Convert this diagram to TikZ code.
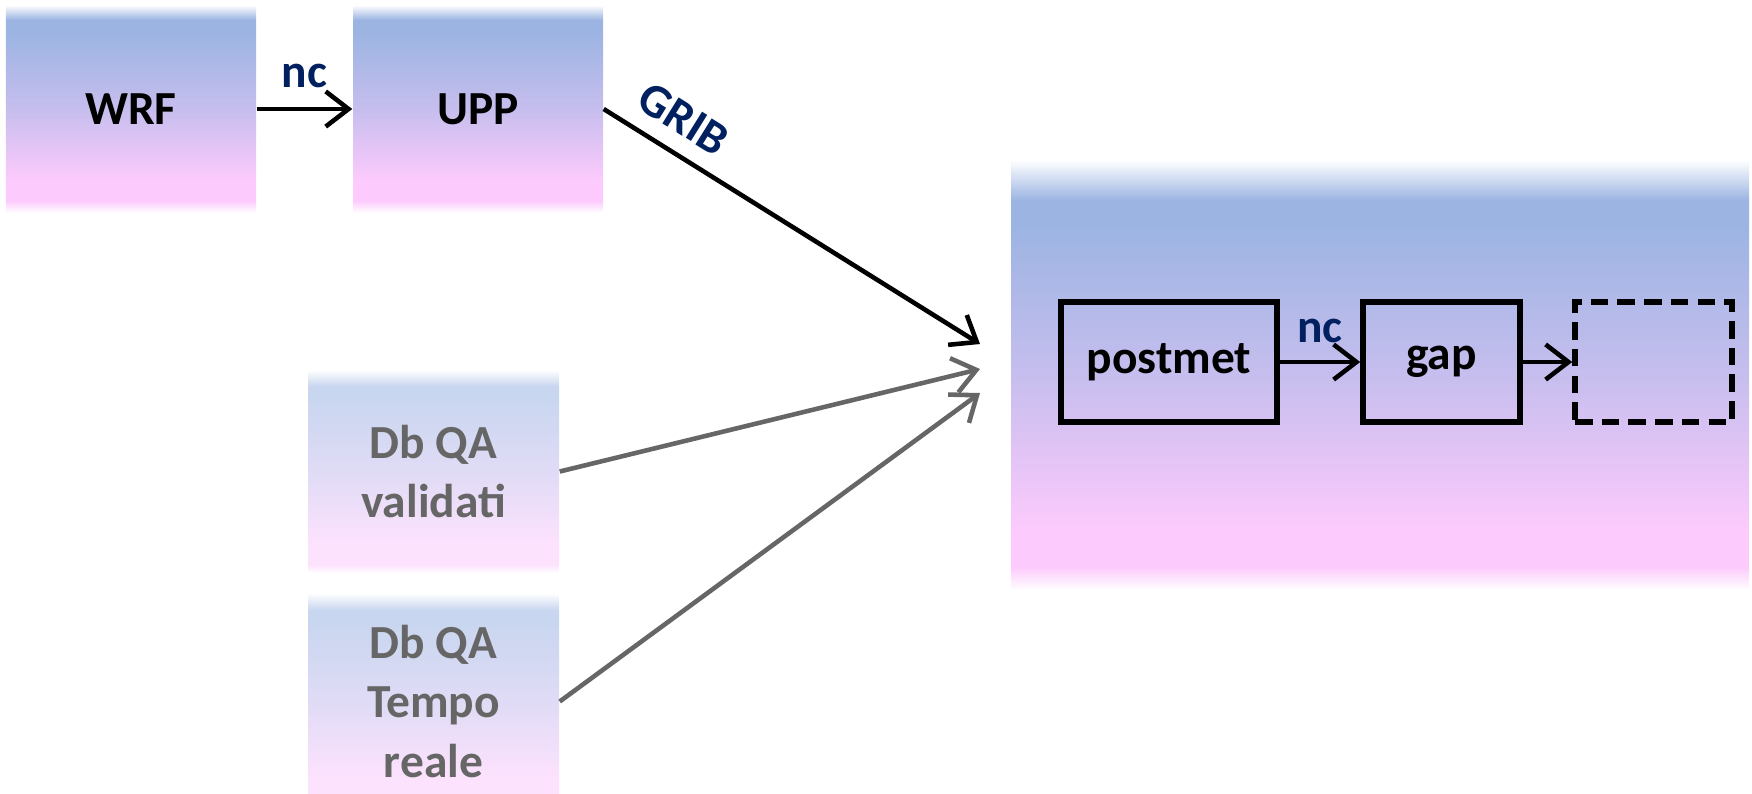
\documentclass[tikz,border=0pt]{standalone}
\usepackage{fontspec}
\setmainfont{Carlito}
\usepackage{xcolor}
\usepackage{tikz}
\usetikzlibrary{arrows.meta}

\definecolor{boxblue}{RGB}{155,180,226}
\definecolor{boxlav}{RGB}{198,190,238}
\definecolor{boxpink}{RGB}{252,202,252}
\definecolor{labnavy}{RGB}{0,32,96}
\definecolor{dbgray}{RGB}{102,102,102}

% blue-to-pink fill that fades out at top and bottom
\pgfdeclareverticalshading{boxshade}{100bp}{
  color(0bp)=(white); color(25bp)=(white); color(28bp)=(boxpink);
  color(33bp)=(boxpink); color(50bp)=(boxlav); color(69bp)=(boxblue);
  color(71.4bp)=(boxblue); color(75bp)=(white); color(100bp)=(white)}
\pgfdeclareverticalshading{bigshade}{100bp}{
  color(0bp)=(white); color(25bp)=(white); color(27.7bp)=(boxpink);
  color(32bp)=(boxpink); color(50bp)=(boxlav); color(68bp)=(boxblue);
  color(70.3bp)=(boxblue); color(75bp)=(white); color(100bp)=(white)}
\pgfdeclareverticalshading{dbshade}{100bp}{
  color(0bp)=(white); color(25bp)=(white); color(27bp)=(boxpink!55!white);
  color(32bp)=(boxpink!55!white); color(50bp)=(boxlav!55!white);
  color(69bp)=(boxblue!55!white); color(71bp)=(boxblue!55!white);
  color(75bp)=(white); color(100bp)=(white)}

\newcommand{\boxfont}{\fontsize{13.5}{16.8}\selectfont\bfseries}

\begin{document}
\begin{tikzpicture}[
  modelbox/.style={rectangle, shade, shading=boxshade, minimum width=2.50cm,
    minimum height=2.08cm, font=\boxfont, inner sep=0pt},
  dbbox/.style={rectangle, shade, shading=dbshade, minimum width=2.51cm,
    align=center, text=dbgray, font=\boxfont, inner sep=0pt},
  procbox/.style={rectangle, draw, line width=1.6pt, minimum height=1.20cm,
    font=\boxfont, inner sep=0pt},
  flow/.style={line width=1.3pt, -{Straight Barb[length=6.5pt,width=10pt]}},
  datalab/.style={text=labnavy, font=\boxfont}
]

\useasboundingbox (0,0) rectangle (17.52,-7.93);
\clip (0,0) rectangle (17.52,-7.93);

% TOP: model chain
\node[modelbox] (wrf) at (1.31,-1.09) {WRF};
\node[modelbox] (upp) at (4.78,-1.09) {UPP};

% LEFT: air quality databases
\node[dbbox, minimum height=2.03cm] (dbval) at (4.335,-4.715) {Db QA\\validati};
\node[dbbox, minimum height=2.17cm] (dbrt) at (4.335,-7.015) {Db QA\\Tempo\\reale};

% RIGHT: processing block
\node[rectangle, shade, shading=bigshade, minimum width=7.38cm,
  minimum height=4.30cm] (proc) at (13.80,-3.75) {};
\node[procbox, minimum width=2.16cm] (postmet) at (11.69,-3.62) {postmet};
\node[procbox, minimum width=1.57cm] (gap) at (14.415,-3.62) {gap};
\node[procbox, minimum width=1.57cm, dashed, dash pattern=on 5pt off 2.6pt]
  (next) at (16.535,-3.62) {};

% Arrow ends in front of the block
\coordinate (inA) at (9.80,-3.44);
\coordinate (inB) at (9.80,-3.69);
\coordinate (inC) at (9.80,-3.93);

% Connectors
\draw[flow] (wrf) -- node[datalab, above=0.07cm] {nc} (upp);
\draw[flow] (upp.east) -- node[datalab, pos=0.165, sloped, above=0.04cm] {GRIB} (inA);
\draw[flow, dbgray] (dbval.east) -- (inB);
\draw[flow, dbgray] (dbrt.east) -- (inC);
\draw[flow] (postmet) -- node[datalab, above=0.05cm] {nc} (gap);
\draw[flow] (gap) -- (next);

\end{tikzpicture}
\end{document}
